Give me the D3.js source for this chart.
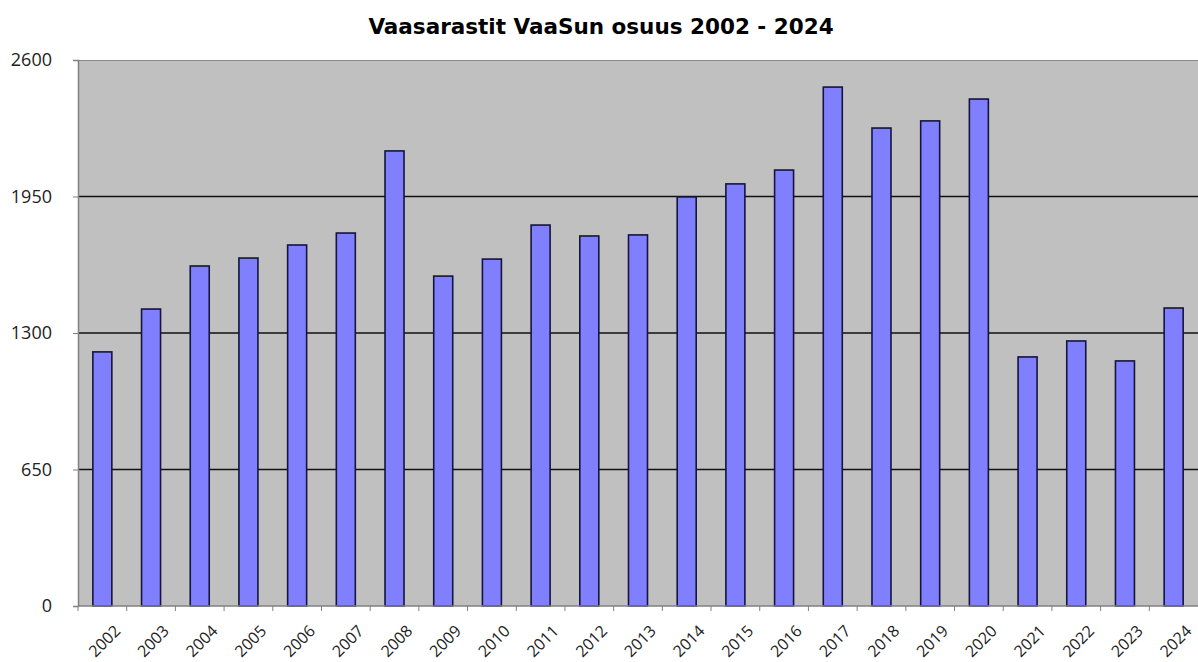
<!DOCTYPE html>
<html>
<head>
<meta charset="utf-8">
<script src="https://cdn.jsdelivr.net/npm/d3@7"></script>
<style>
  body { margin: 0; background: #fff; }
  svg { display: block; }
</style>
</head>
<body>
<div id="chart"></div>
<script>
const years = ["2002","2003","2004","2005","2006","2007","2008","2009","2010","2011","2012","2013",
               "2014","2015","2016","2017","2018","2019","2020","2021","2022","2023","2024"];
const values = [1210, 1414, 1619, 1657, 1719, 1776, 2167, 1571, 1652, 1814, 1762, 1767,
                1948, 2010, 2076, 2471, 2276, 2310, 2414, 1186, 1262, 1167, 1419];
const yTicks = [0, 650, 1300, 1950, 2600];
const title = "Vaasarastit VaaSun osuus 2002 - 2024";

const width = 1198, height = 662;
const margin = {top: 60, right: 0, bottom: 56, left: 78};

const svg = d3.select("#chart").append("svg")
    .attr("width", width)
    .attr("height", height);

const x = d3.scaleBand()
    .domain(years)
    .range([margin.left, width - margin.right])
    .paddingInner(0.61)
    .paddingOuter(0.305);

const y = d3.scaleLinear()
    .domain([0, 2600])
    .range([height - margin.bottom, margin.top]);

// plot background
svg.append("rect")
    .attr("x", margin.left)
    .attr("y", margin.top)
    .attr("width", width - margin.right - margin.left)
    .attr("height", y(0) - margin.top)
    .attr("fill", "#c0c0c0");

// top border
svg.append("line")
    .attr("x1", margin.left).attr("x2", width)
    .attr("y1", margin.top + 0.5).attr("y2", margin.top + 0.5)
    .attr("stroke", "#8a8a8a");

// gridlines
svg.append("g")
    .selectAll("line")
    .data(yTicks.filter(d => d > 0 && d < 2600))
    .enter().append("line")
    .attr("x1", margin.left).attr("x2", width)
    .attr("y1", d => y(d)).attr("y2", d => y(d))
    .attr("stroke", "#111")
    .attr("stroke-width", 1.5);

// bars
svg.append("g")
    .selectAll("rect")
    .data(values)
    .enter().append("rect")
    .attr("x", (d, i) => x(years[i]))
    .attr("y", d => y(d))
    .attr("width", x.bandwidth())
    .attr("height", d => y(0) - y(d))
    .attr("fill", "#8080ff")
    .attr("stroke", "#14143c")
    .attr("stroke-width", 1.6);

// y axis
const yAxis = d3.axisLeft(y)
    .tickValues(yTicks)
    .tickSize(5)
    .tickPadding(21)
    .tickFormat(d3.format("d"));

svg.append("g")
    .attr("transform", `translate(${margin.left},0)`)
    .call(yAxis)
    .call(g => g.select(".domain").attr("stroke", "#808080").attr("stroke-width", 1.5))
    .call(g => g.selectAll(".tick line").attr("stroke", "#808080"))
    .call(g => g.selectAll("text")
        .attr("fill", "#222")
        .style("font-family", "'Open Sans', 'DejaVu Sans', sans-serif")
        .style("font-size", "18px"));

// x axis
const xAxisG = svg.append("g")
    .attr("transform", `translate(0,${y(0)})`);

xAxisG.append("line")
    .attr("x1", margin.left).attr("x2", width)
    .attr("stroke", "#808080")
    .attr("stroke-width", 1.5);

xAxisG.selectAll(".xtick")
    .data(years)
    .enter().append("line")
    .attr("x1", d => x(d) - x.step() * x.paddingInner() / 2)
    .attr("x2", d => x(d) - x.step() * x.paddingInner() / 2)
    .attr("y1", 0).attr("y2", 5)
    .attr("stroke", "#808080");

xAxisG.selectAll("text")
    .data(years)
    .enter().append("text")
    .attr("transform", d => `translate(${x(d) + x.bandwidth() / 2 + 19},${26}) rotate(-45)`)
    .attr("text-anchor", "end")
    .attr("fill", "#222")
    .style("font-family", "'Open Sans', 'DejaVu Sans', sans-serif")
    .style("font-size", "16px")
    .text(d => d);

// title
svg.append("text")
    .attr("x", 601)
    .attr("y", 34)
    .attr("text-anchor", "middle")
    .style("font-family", "'DejaVu Sans', Verdana, sans-serif")
    .style("font-weight", "bold")
    .style("font-size", "21.5px")
    .attr("fill", "#000")
    .text(title);
</script>
</body>
</html>
